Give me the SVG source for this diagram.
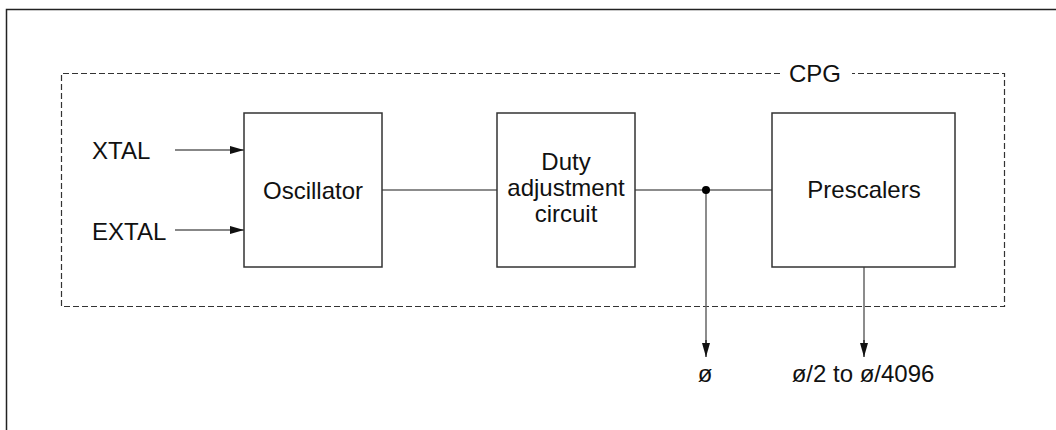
<svg xmlns="http://www.w3.org/2000/svg" width="1056" height="430" viewBox="0 0 1056 430">
<style>
text{font-family:"Liberation Sans",Arial,sans-serif;font-size:24px;fill:#111}
.box{fill:#fff;stroke:#333;stroke-width:1.5}
.ln{stroke:#666;stroke-width:1.5;fill:none}
.ar{stroke:#111;stroke-width:1.2;fill:none}
</style>
<defs>
<marker id="ah" viewBox="0 0 14 8" refX="14" refY="4" markerWidth="14" markerHeight="8" markerUnits="userSpaceOnUse" orient="auto">
<path d="M0,0 L14,4 L0,8 Z" fill="#111"/>
</marker>
</defs>
<rect width="1056" height="430" fill="#fff"/>
<rect id="frame" x="6.5" y="9.5" width="1100" height="500" fill="none" stroke="#222" stroke-width="1.5"/>
<g id="cpg">
<path d="M780,73.5 H61.5 V306.5 H1004.5 V73.5 H852" fill="none" stroke="#333" stroke-width="1.2" stroke-dasharray="6,3"/>
<text x="815" y="82" text-anchor="middle">CPG</text>
</g>
<g id="connectors">
<line class="ar" x1="175" y1="150" x2="244" y2="150" marker-end="url(#ah)"/>
<line class="ar" x1="175" y1="230" x2="244" y2="230" marker-end="url(#ah)"/>
<line class="ln" x1="382" y1="190" x2="497" y2="190"/>
<line class="ln" x1="635" y1="190" x2="772" y2="190"/>
<line class="ln" x1="706" y1="190" x2="706" y2="344"/>
<line class="ar" x1="706" y1="340" x2="706" y2="357" marker-end="url(#ah)"/>
<line class="ln" x1="864" y1="267" x2="864" y2="344"/>
<line class="ar" x1="864" y1="340" x2="864" y2="357" marker-end="url(#ah)"/>
<circle cx="706" cy="190" r="4" fill="#000"/>
</g>
<g id="xtal"><text x="92" y="159">XTAL</text></g>
<g id="extal"><text x="92" y="240">EXTAL</text></g>
<g id="oscillator">
<rect class="box" x="244" y="113" width="138" height="154"/>
<text x="313" y="199" text-anchor="middle">Oscillator</text>
</g>
<g id="duty">
<rect class="box" x="497" y="113" width="138" height="154"/>
<text x="566" y="170" text-anchor="middle">Duty</text>
<text x="566" y="196" text-anchor="middle">adjustment</text>
<text x="566" y="222" text-anchor="middle">circuit</text>
</g>
<g id="prescalers">
<rect class="box" x="772" y="113" width="183" height="154"/>
<text x="864" y="198" text-anchor="middle">Prescalers</text>
</g>
<g id="phi"><text x="705" y="382" text-anchor="middle">ø</text></g>
<g id="phidiv"><text x="863" y="382" text-anchor="middle">ø/2 to ø/4096</text></g>
</svg>
